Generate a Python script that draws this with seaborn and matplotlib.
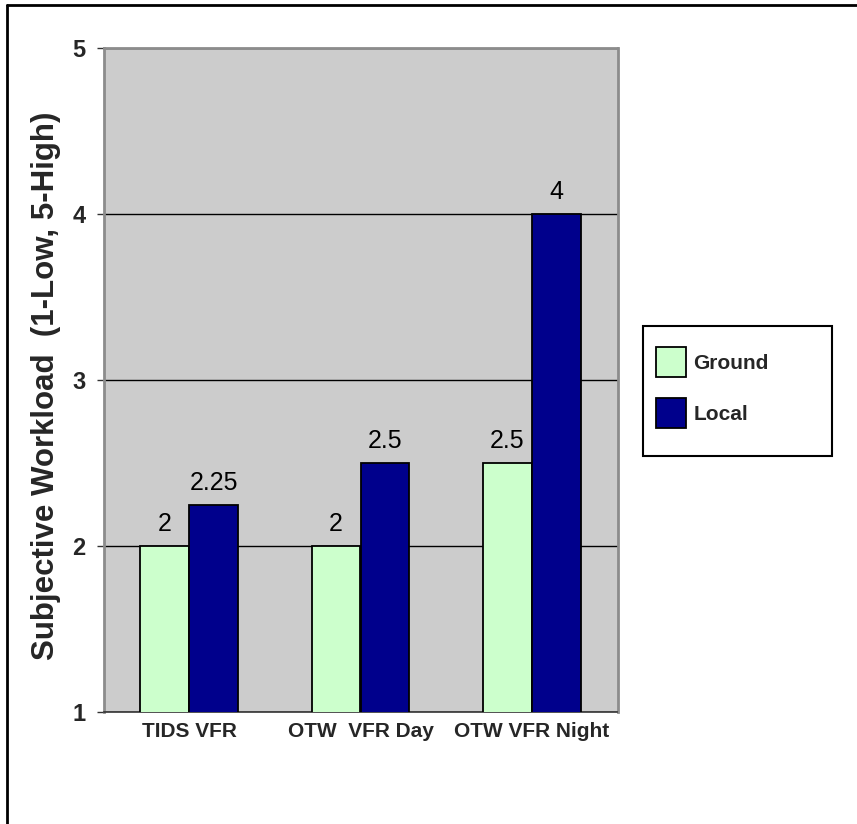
import matplotlib
matplotlib.use("Agg")
import matplotlib.pyplot as plt
import seaborn as sns
import pandas as pd
from matplotlib.lines import Line2D
from matplotlib.patches import Rectangle, Patch

# Workload ratings per display condition and controller position
conditions = ["TIDS VFR", "OTW  VFR Day", "OTW VFR Night"]
positions = ["Ground", "Local"]
ground_scores = [2, 2, 2.5]
local_scores = [2.25, 2.5, 4]
y_ticks = [1, 2, 3, 4, 5]
y_label = "Subjective Workload  (1-Low, 5-High)"

colors = {"Ground": "#CCFFCC", "Local": "#00008C"}

df = pd.DataFrame({
    "Condition": conditions * 2,
    "Position": ["Ground"] * len(conditions) + ["Local"] * len(conditions),
    "Workload": ground_scores + local_scores,
})

sns.set_style("white")
plt.rcParams["font.family"] = ["Liberation Sans", "DejaVu Sans"]

W, H = 857, 824
fig = plt.figure(figsize=(W / 100, H / 100), dpi=100)
ax_l, ax_r, ax_t, ax_b = 103.5, 617.5, 48, 712
ax = fig.add_axes([ax_l / W, 1 - ax_b / H, (ax_r - ax_l) / W, (ax_b - ax_t) / H])
ax.set_facecolor("#CCCCCC")

sns.barplot(data=df, x="Condition", y="Workload", hue="Position",
            order=conditions, hue_order=positions, palette=colors,
            saturation=1, width=0.57, edgecolor="black", linewidth=1.3,
            errorbar=None, legend=False, ax=ax, zorder=3)

ax.set_ylim(1, 5)
ax.set_xlim(-0.5, len(conditions) - 0.5)
ax.set_yticks(y_ticks)
ax.set_yticklabels([str(t) for t in y_ticks], fontsize=17, fontweight="bold")
ax.set_xticks(range(len(conditions)))
ax.set_xticklabels(conditions, fontsize=15, fontweight="bold")
ax.set_xticks([-0.5, 0.5, 1.5, 2.5], minor=True)
ax.tick_params(axis="x", which="major", length=0, pad=7)
ax.tick_params(axis="x", which="minor", length=6, width=1, color="#333333", direction="out")
ax.tick_params(axis="y", length=5, width=1, color="#333333", direction="out", pad=8, left=True)
ax.set_xlabel("")
ax.set_ylabel("")

ax.yaxis.grid(True, color="black", linewidth=1)
ax.set_axisbelow(True)

for side in ["top", "right", "left"]:
    ax.spines[side].set_color("#8C8C8C")
    ax.spines[side].set_linewidth(2)
ax.spines["bottom"].set_color("#333333")
ax.spines["bottom"].set_linewidth(1.2)

for container in ax.containers:
    ax.bar_label(container, fmt="%g", padding=7, fontsize=18, color="black")

fig.text(46 / W, 1 - 386 / H, y_label, rotation=90, ha="center", va="center",
         fontsize=22.5, fontweight="bold")

# Legend with a separate rectangular frame
handles = [Patch(facecolor=colors[p], edgecolor="black", linewidth=1.3) for p in positions]
fig.legend(handles, positions, loc="upper left",
           bbox_to_anchor=(656 / W, 1 - 347 / H), bbox_transform=fig.transFigure,
           frameon=False, borderpad=0, borderaxespad=0,
           prop={"size": 15, "weight": "bold"},
           handlelength=1.45, handleheight=1.84, handletextpad=0.35,
           labelspacing=1.0)
fig.add_artist(Rectangle((643 / W, 1 - 456 / H), 189 / W, 130 / H,
                         transform=fig.transFigure, fill=False,
                         edgecolor="black", linewidth=1.5))

# Outer chart frame (top and left edges)
fig.add_artist(Line2D([7 / W, 1], [1 - 5 / H, 1 - 5 / H], transform=fig.transFigure,
                      color="black", linewidth=2))
fig.add_artist(Line2D([7 / W, 7 / W], [0, 1 - 5 / H], transform=fig.transFigure,
                      color="black", linewidth=2))

fig.savefig("out.png", dpi=100)
